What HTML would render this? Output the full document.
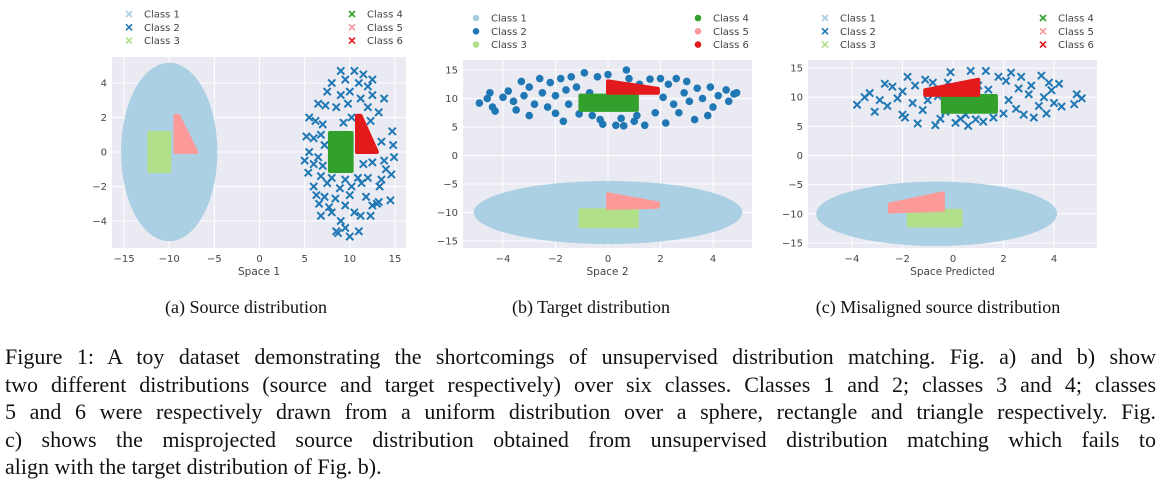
<!DOCTYPE html>
<html><head><meta charset="utf-8">
<style>
body{margin:0;width:1176px;height:499px;background:#fff;overflow:hidden;position:relative;font-family:"Liberation Serif",serif}
svg{position:absolute;left:0;top:0}
.cap{position:absolute;font-size:18px;color:#111;white-space:nowrap;transform:translateX(-50%)}
.ln{position:absolute;left:5px;width:1151px;font-size:22px;color:#111;white-space:nowrap;text-align:justify;text-align-last:justify}
</style></head><body>
<svg id="fig" width="1176" height="290"></svg>
<div class="cap" style="left:246px;top:297px">(a) Source distribution</div>
<div class="cap" style="left:591px;top:297px">(b) Target distribution</div>
<div class="cap" style="left:938px;top:297px">(c) Misaligned source distribution</div>
<div class="ln" style="top:344px">Figure 1: A toy dataset demonstrating the shortcomings of unsupervised distribution matching. Fig. a) and b) show</div>
<div class="ln" style="top:372px">two different distributions (source and target respectively) over six classes. Classes 1 and 2; classes 3 and 4; classes</div>
<div class="ln" style="top:399px">5 and 6 were respectively drawn from a uniform distribution over a sphere, rectangle and triangle respectively. Fig.</div>
<div class="ln" style="top:427px">c) shows the misprojected source distribution obtained from unsupervised distribution matching which fails to</div>
<div class="ln" style="top:454px;text-align-last:left">align with the target distribution of Fig. b).</div>
<script>
const classNames=["Class 1","Class 2","Class 3","Class 4","Class 5","Class 6"];
const colors=["#a6cee3","#1f78b4","#b2df8a","#33a02c","#fb9a99","#e31a1c"];
// Panel a data
const aXTicks=[-15,-10,-5,0,5,10,15];
const aYTicks=[-4,-2,0,2,4];
const aClass1Ellipse=[-10,0,5,5];
const aClass3Poly=[[-12.2,-1.1],[-10,-1.1],[-10,1.1],[-12.2,1.1]];
const aClass5Poly=[[-9.3,0],[-7,0],[-9,2.1],[-9.3,2.1]];
const aClass4Poly=[[7.8,-1.1],[10.2,-1.1],[10.2,1.1],[7.8,1.1]];
const aClass6Poly=[[10.8,0],[13,0],[11.2,2.1],[10.8,2.1]];
const aClass2=[[9,4.7],[10.5,4.7],[11.5,4.5],[12.5,4.2],[8,4],[9.5,4.2],[11,4],[12,3.8],[7.5,3.5],[9,3.3],[10,3.5],[11.2,3.1],[12.5,3.3],[13.8,3.1],[6.5,2.8],[7.3,2.7],[8.5,2.6],[9.8,2.8],[12,2.6],[13.2,2.3],[5.5,2],[6.2,1.8],[7,1.6],[9.3,1.7],[10.2,2],[12.3,1.8],[14.7,1.2],[5.2,0.9],[6,0.8],[6.8,1],[11,0.2],[13.5,0.6],[14.8,0.4],[5.5,0],[6.5,-0.3],[7.2,0.4],[13.8,-0.5],[14.9,-0.3],[5,-0.5],[6,-0.7],[7,-0.8],[11.5,-0.7],[12.5,-0.6],[14,-1],[5.4,-1.2],[6.8,-1.4],[8,-1.5],[9.5,-1.6],[10.9,-1.5],[12,-1.5],[13.5,-1.6],[14.6,-1.3],[6,-2],[7.5,-1.8],[8.9,-2.1],[10.2,-2],[11.3,-1.8],[13.3,-2],[6.3,-2.5],[7.2,-2.6],[8.4,-2.7],[10,-2.5],[11.8,-2.6],[13.2,-2.9],[14.5,-2.8],[6.6,-3],[7.7,-3.2],[9.5,-3.1],[10.5,-3.5],[12.5,-3.1],[13,-3],[6.8,-3.7],[8,-3.5],[9,-4],[11.2,-3.7],[12.3,-3.7],[8.5,-4.6],[9.5,-4.4],[10,-4.9],[11,-4.6],[8.7,-4.7]];
// Panel b data
const bXTicks=[-4,-2,0,2,4];
const bYTicks=[-15,-10,-5,0,5,10,15];
const bClass1Ellipse=[0,-10,5,5];
const bClass3Poly=[[-1.05,-12.4],[1.1,-12.4],[1.1,-9.6],[-1.05,-9.6]];
const bClass5Poly=[[0,-9.2],[1.9,-9],[1.9,-8.4],[0,-6.8]];
const bClass4Poly=[[-1.05,8],[1.1,8],[1.1,10.5],[-1.05,10.5]];
const bClass6Poly=[[0,11],[1.9,11],[1.9,11.7],[0,13]];
const bClass2=[[-4.9,9.2],[-4.6,10],[-4.5,11],[-4.4,8.5],[-4.3,7.8],[-4,10.2],[-3.8,11.3],[-3.6,9.5],[-3.5,8],[-3.3,13],[-3.2,10.5],[-3,12],[-3,7],[-2.8,9],[-2.6,13.5],[-2.5,11],[-2.3,8.5],[-2.2,12.8],[-2,10.5],[-2,7.4],[-1.8,13.5],[-1.7,6],[-1.6,11.5],[-1.5,9],[-1.4,13.8],[-1.2,12],[-1.1,7.3],[-0.9,14.5],[-0.7,11],[-0.6,7],[-0.4,13.8],[-0.3,6.3],[-0.2,5.5],[0,14.2],[0.3,5.3],[0.5,6.5],[0.6,5.2],[0.7,15],[0.8,13.5],[1,6],[1.1,7],[1.2,12.5],[1.4,5.3],[1.6,13.4],[1.8,7.5],[2,13.5],[2.1,10.2],[2.2,5.7],[2.3,12.5],[2.5,9],[2.6,13.5],[2.7,7.5],[2.9,11],[3,13],[3.1,9.5],[3.3,6.3],[3.4,11.8],[3.6,10],[3.8,7],[3.9,12],[4,8.5],[4.2,10.5],[4.5,11.5],[4.6,9.5],[4.8,10.8],[4.9,11]];
// Panel c data
const cXTicks=[-4,-2,0,2,4];
const cYTicks=[-15,-10,-5,0,5,10,15];
const cClass1Ellipse=[-0.65,-10,4.65,5];
const cClass3Poly=[[-1.75,-12],[0.3,-12],[0.3,-9.5],[-1.75,-9.5]];
const cClass5Poly=[[-2.5,-9.6],[-0.4,-9.3],[-0.4,-6.5],[-2.5,-8.4]];
const cClass4Poly=[[-0.4,7.5],[1.7,7.5],[1.7,10.2],[-0.4,10.2]];
const cClass6Poly=[[-1.1,10.4],[1,10.4],[1,13],[-1.1,11.2]];
const cClass2=[[-3.8,8.7],[-3.5,10],[-3.3,10.7],[-3.1,7.5],[-2.9,9.5],[-2.7,12.3],[-2.6,8.5],[-2.4,11.8],[-2.2,9.8],[-2,7],[-2,11],[-1.9,6.5],[-1.8,13.5],[-1.6,9],[-1.5,12],[-1.4,5.5],[-1.2,7.8],[-1.1,13],[-1,9.5],[-0.8,12.5],[-0.7,5.2],[-0.5,6.3],[-0.3,7.5],[-0.2,12.5],[-0.1,14.3],[0.1,5.6],[0.3,6.3],[0.5,7],[0.6,5.1],[0.7,14.5],[0.9,6.2],[1,12],[1.2,5.8],[1.3,14.5],[1.4,11.3],[1.6,6.5],[1.8,13.5],[2,7.2],[2.1,12.8],[2.2,9.5],[2.3,14.2],[2.5,8],[2.6,11.5],[2.7,13.5],[2.8,7],[3,10.5],[3.1,12],[3.2,6.5],[3.4,8.5],[3.5,13.7],[3.6,10],[3.7,7.2],[3.8,12.5],[4,9],[4.2,12.3],[4.3,8.4],[4.8,8.8],[4.9,10.5],[5.1,9.8],[3.9,11.2],[-0.6,10.2]];

const NS="http://www.w3.org/2000/svg";
const svg=document.getElementById('fig');
function mk(tag,attrs,parent){const e=document.createElementNS(NS,tag);for(const k in attrs)e.setAttribute(k,attrs[k]);(parent||svg).appendChild(e);return e;}
function marker(g,kind,x,y,col,s,w){
  if(kind==='x'){return mk('path',{d:`M${x-s},${y-s}L${x+s},${y+s}M${x-s},${y+s}L${x+s},${y-s}`,stroke:col,'stroke-width':w||1.6,fill:'none'},g);}
  return mk('circle',{cx:x,cy:y,r:s,fill:col},g);
}
function panel(cfg){
  const g=mk('g',{});
  
  
  const sx=v=>cfg.x0+(v-cfg.xd0)*cfg.kx, sy=v=>cfg.y0-(v-cfg.yd0)*cfg.ky;
  const bg=mk('rect',{x:cfg.l,y:cfg.t,width:cfg.r-cfg.l,height:cfg.b-cfg.t,fill:'#eaeaf2'},g);
  
  
  cfg.xt.forEach(v=>{
    mk('line',{x1:sx(v),x2:sx(v),y1:cfg.t,y2:cfg.b,stroke:'#fff','stroke-width':1},g);
    const t=mk('text',{x:sx(v),y:cfg.b+14,'text-anchor':'middle','font-size':10,fill:'#444','font-family':'DejaVu Sans, sans-serif'},g);
    t.textContent=v<0?'\u2212'+(-v):v;
    
    
  });
  cfg.yt.forEach(v=>{
    mk('line',{x1:cfg.l,x2:cfg.r,y1:sy(v),y2:sy(v),stroke:'#fff','stroke-width':1},g);
    const t=mk('text',{x:cfg.l-5,y:sy(v)+3.5,'text-anchor':'end','font-size':10,fill:'#444','font-family':'DejaVu Sans, sans-serif'},g);
    t.textContent=v<0?'\u2212'+(-v):v;
    
    
  });
  const e=cfg.ell;
  const el=mk('ellipse',{cx:sx(e[0]),cy:sy(e[1]),rx:e[2]*cfg.kx+3,ry:e[3]*cfg.ky+3,fill:'#abd0e4'},g);
  
  
  const c2=mk('g',{},g);
  
  
  cfg.c2.forEach(p=>marker(c2,cfg.kind,sx(p[0]),sy(p[1]),colors[1],cfg.kind==='x'?3.6:3.8,2));
  [[cfg.p3,2],[cfg.p5,4],[cfg.p4,3],[cfg.p6,5]].forEach(([poly,ci])=>{
    const pts=poly.map(p=>sx(p[0])+','+sy(p[1])).join(' ');
    const pg=mk('polygon',{points:pts,fill:colors[ci],stroke:colors[ci],'stroke-width':4,'stroke-linejoin':'round'},g);
    
    
  });
  const xl=mk('text',{x:(cfg.l+cfg.r)/2,y:cfg.b+27,'text-anchor':'middle','font-size':10.5,fill:'#444','font-family':'DejaVu Sans, sans-serif'},g);
  xl.textContent=cfg.xlabel;
  
  
  classNames.forEach((n,i)=>{
    const col=i<3?0:1, row=i%3;
    const mx=cfg.leg[col], my=cfg.legY+row*13.3;
    const lg=mk('g',{},g);
    
    
    marker(lg,cfg.kind,mx,my,colors[i],cfg.kind==='x'?3:3.3);
    const t=mk('text',{x:mx+15,y:my+3.5,'font-size':10,fill:'#444','font-family':'DejaVu Sans, sans-serif'},lg);
    t.textContent=n;
  });
}
panel({name:'panel-a-source',l:112,r:406,t:57,b:248,x0:259.5,xd0:0,kx:9.03,y0:152,yd0:0,ky:17.25,xt:aXTicks,yt:aYTicks,ell:aClass1Ellipse,c2:aClass2,p3:aClass3Poly,p4:aClass4Poly,p5:aClass5Poly,p6:aClass6Poly,kind:'x',xlabel:'Space 1',leg:[129,352],legY:14});
panel({name:'panel-b-target',l:463,r:752,t:60,b:248,x0:608,xd0:0,kx:26.25,y0:155.5,yd0:0,ky:5.7,xt:bXTicks,yt:bYTicks,ell:bClass1Ellipse,c2:bClass2,p3:bClass3Poly,p4:bClass4Poly,p5:bClass5Poly,p6:bClass6Poly,kind:'o',xlabel:'Space 2',leg:[476,698],legY:18});
panel({name:'panel-c-misaligned',l:808,r:1097,t:60,b:248,x0:953,xd0:0,kx:25.25,y0:155.5,yd0:0,ky:5.83,xt:cXTicks,yt:cYTicks,ell:cClass1Ellipse,c2:cClass2,p3:cClass3Poly,p4:cClass4Poly,p5:cClass5Poly,p6:cClass6Poly,kind:'x',xlabel:'Space Predicted',leg:[825,1043],legY:18});
</script>
</body></html>
